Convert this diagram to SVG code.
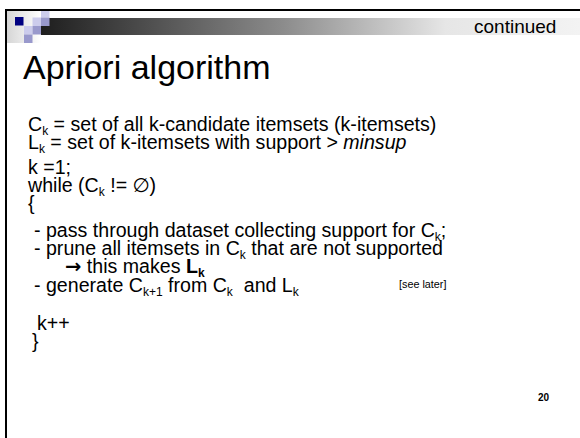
<svg xmlns="http://www.w3.org/2000/svg" width="580" height="438" viewBox="0 0 580 438">
  <defs>
    <linearGradient id="barGrad" x1="41" y1="0" x2="580" y2="0" gradientUnits="userSpaceOnUse">
      <stop offset="0" stop-color="#1e1e1e"/>
      <stop offset="0.45" stop-color="#8c8c8c"/>
      <stop offset="0.75" stop-color="#e6e6e6"/>
      <stop offset="1" stop-color="#f3f3f3"/>
    </linearGradient>
    <linearGradient id="edgeGrad" x1="0" y1="0" x2="1" y2="0">
      <stop offset="0" stop-color="#d6d6d6"/>
      <stop offset="1" stop-color="#ffffff"/>
    </linearGradient>
    <style>
      text { font-family: "Liberation Sans", Arial, "DejaVu Sans", sans-serif; fill: #000; }
      .title { font-size: 34px; }
      .body { font-size: 19.6px; }
      .sub { font-size: 12px; }
      .arrow { font-family: "DejaVu Sans", sans-serif; font-weight: bold; }
      .note { font-size: 10.8px; }
      .page { font-size: 10px; font-weight: bold; }
      .lite { fill: #ccccec; }
      .mid { fill: #9999cc; }
    </style>
  </defs>

  <rect width="580" height="438" fill="#ffffff"/>

  <!-- header band: fading bar with the square motif -->
  <g id="header">
    <rect x="7" y="11" width="34" height="32" fill="url(#edgeGrad)"/>
    <rect x="41" y="18" width="539" height="17" fill="url(#barGrad)"/>
    <rect x="15" y="17" width="8.5" height="8.5" fill="#000080"/>
    <rect class="lite" x="41" y="9" width="8.5" height="8.5"/>
    <rect class="lite" x="32.5" y="17.5" width="8.5" height="8.5"/>
    <rect class="mid" x="41" y="17.5" width="8.5" height="8.5"/>
    <rect class="lite" x="24" y="26" width="8.5" height="8.5"/>
    <rect class="mid" x="32.5" y="26" width="8.5" height="8.5"/>
    <rect class="mid" x="24" y="34.5" width="8.5" height="8.5"/>
    <text x="474" y="33" style="font-size:19px">continued</text>
  </g>

  <!-- slide frame -->
  <g id="frame" stroke="#000" stroke-width="2" fill="none">
    <line x1="5" y1="10" x2="580" y2="10"/>
    <line x1="6" y1="9" x2="6" y2="438"/>
  </g>

  <text class="title" x="23" y="79">Apriori algorithm</text>

  <g id="body">
    <text class="body" x="28" y="131">C<tspan class="sub" dy="3.5">k</tspan><tspan dy="-3.5"> = set of all k-candidate itemsets (k-itemsets)</tspan></text>
    <text class="body" x="28" y="149">L<tspan class="sub" dy="3.5">k</tspan><tspan dy="-3.5"> = set of k-itemsets with support &gt; </tspan><tspan font-style="italic">minsup</tspan></text>
    <text class="body" x="28" y="174">k =1;</text>
    <text class="body" x="28" y="192">while (C<tspan class="sub" dy="3.5">k</tspan><tspan dy="-3.5"> != ∅)</tspan></text>
    <text class="body" x="28" y="210">{</text>
    <text class="body" x="34" y="237">- pass through dataset collecting support for C<tspan class="sub" dy="3.5">k</tspan><tspan dy="-3.5">;</tspan></text>
    <text class="body" x="34" y="255">- prune all itemsets in C<tspan class="sub" dy="3.5">k</tspan><tspan dy="-3.5"> that are not supported</tspan></text>
    <text class="body" x="65" y="273"><tspan class="arrow">→</tspan> this makes <tspan font-weight="bold">L</tspan><tspan class="sub" font-weight="bold" dy="3.5">k</tspan></text>
    <text class="body" x="34" y="292" style="white-space:pre">- generate C<tspan class="sub" dy="3.5">k+1</tspan><tspan dy="-3.5"> from C</tspan><tspan class="sub" dy="3.5">k</tspan><tspan dy="-3.5">  and L</tspan><tspan class="sub" dy="3.5">k</tspan></text>
    <text class="note" x="399" y="288">[see later]</text>
    <text class="body" x="37" y="330">k++</text>
    <text class="body" x="32" y="348">}</text>
  </g>

  <text class="page" x="538" y="401">20</text>
</svg>
